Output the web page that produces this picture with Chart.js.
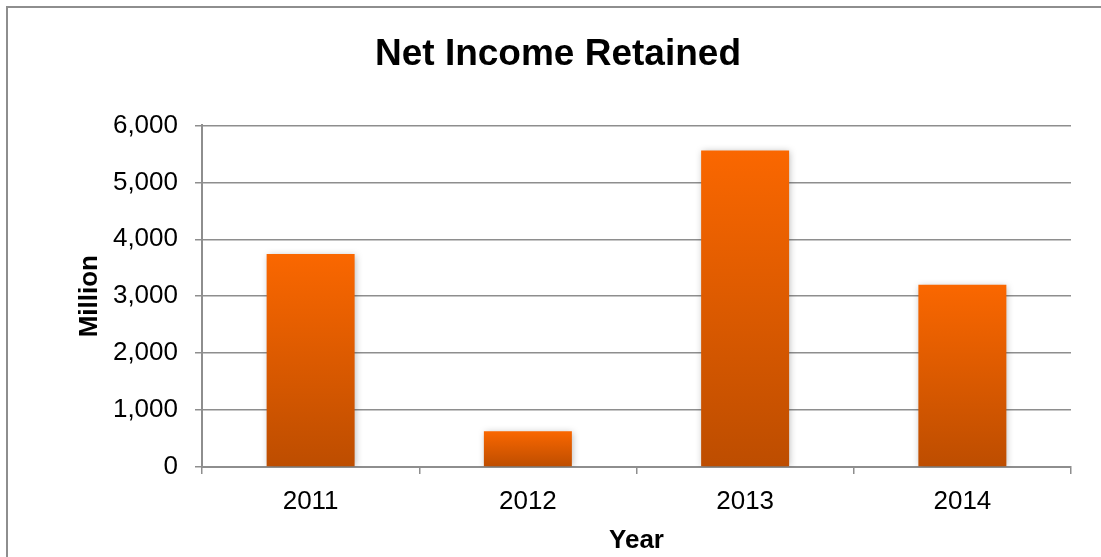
<!DOCTYPE html>
<html>
<head>
<meta charset="utf-8">
<script src="https://cdn.jsdelivr.net/npm/chart.js@4"></script>
<style>
  html, body { margin: 0; padding: 0; background: #fff; }
  #wrap { position: relative; width: 1101px; height: 557px; overflow: hidden; }
  #frame { position: absolute; left: 6px; top: 6px; width: 1200px; height: 700px;
           border-left: 2px solid #8e8e8e; border-top: 2px solid #8e8e8e; pointer-events: none; }
</style>
</head>
<body>
<div id="wrap">
  <canvas id="chart-net-income" width="1101" height="557"></canvas>
  <div id="frame"></div>
</div>
<script>
const years = ['2011', '2012', '2013', '2014'];
const netIncomeRetained = [3740, 630, 5560, 3200];
const yTicks = [0, 1000, 2000, 3000, 4000, 5000, 6000];

const FONT = "'Liberation Sans', Arial, Helvetica, sans-serif";
const gridGray = '#8e8e8e';

// soft shadow behind the bars
const barShadow = {
  id: 'barShadow',
  beforeDatasetsDraw(chart) {
    const c = chart.ctx;
    c.save();
    c.shadowColor = 'rgba(0,0,0,0.28)';
    c.shadowBlur = 7;
    c.shadowOffsetX = 1;
    c.shadowOffsetY = 1;
  },
  afterDatasetsDraw(chart) {
    chart.ctx.restore();
  }
};

const chartNetIncome = document.getElementById('chart-net-income');

new Chart(chartNetIncome, {
  type: 'bar',
  data: {
    labels: years,
    datasets: [{
      data: netIncomeRetained,
      borderWidth: 0,
      categoryPercentage: 1,
      barPercentage: 0.405,
      backgroundColor: (ctx) => {
        const chart = ctx.chart;
        if (ctx.type !== 'data' || !chart.chartArea) return '#f96600';
        const y = chart.scales.y;
        const top = y.getPixelForValue(ctx.raw);
        const base = y.getPixelForValue(0);
        const g = chart.ctx.createLinearGradient(0, top, 0, base);
        g.addColorStop(0, '#fa6700');
        g.addColorStop(1, '#bd4d00');
        return g;
      }
    }]
  },
  options: {
    responsive: false,
    animation: false,
    layout: { padding: { left: 45, right: 30, top: 0, bottom: 0 } },
    plugins: {
      legend: { display: false },
      tooltip: { enabled: false },
      title: {
        display: true,
        text: 'Net Income Retained',
        color: '#000',
        font: { family: FONT, size: 37, weight: 'bold' },
        padding: { top: 33, bottom: 48 }
      }
    },
    scales: {
      x: {
        grid: {
          drawOnChartArea: false,
          drawTicks: true,
          tickLength: 7,
          color: gridGray,
          lineWidth: 1.5
        },
        border: { display: true, color: gridGray, width: 2 },
        ticks: {
          color: '#000',
          padding: 12,
          font: { family: FONT, size: 26 }
        },
        title: {
          display: true,
          text: 'Year',
          color: '#000',
          font: { family: FONT, size: 26, weight: 'bold' },
          padding: { top: 0, bottom: 1 }
        },
        afterFit(scale) { scale.height = 90; }
      },
      y: {
        min: 0,
        max: 6000,
        afterBuildTicks(scale) { scale.ticks = yTicks.map(v => ({ value: v })); },
        grid: {
          color: gridGray,
          lineWidth: 1.5,
          tickLength: 7
        },
        border: { display: true, color: gridGray, width: 2 },
        ticks: {
          color: '#000',
          padding: 17,
          font: { family: FONT, size: 26 },
          callback: (v) => Number(v).toLocaleString('en-US')
        },
        title: {
          display: true,
          text: 'Million',
          color: '#000',
          font: { family: FONT, size: 26, weight: 'bold' },
          padding: { top: 29, bottom: 0 }
        },
        afterFit(scale) { scale.width = 157; }
      }
    }
  },
  plugins: [barShadow]
});
</script>
</body>
</html>
